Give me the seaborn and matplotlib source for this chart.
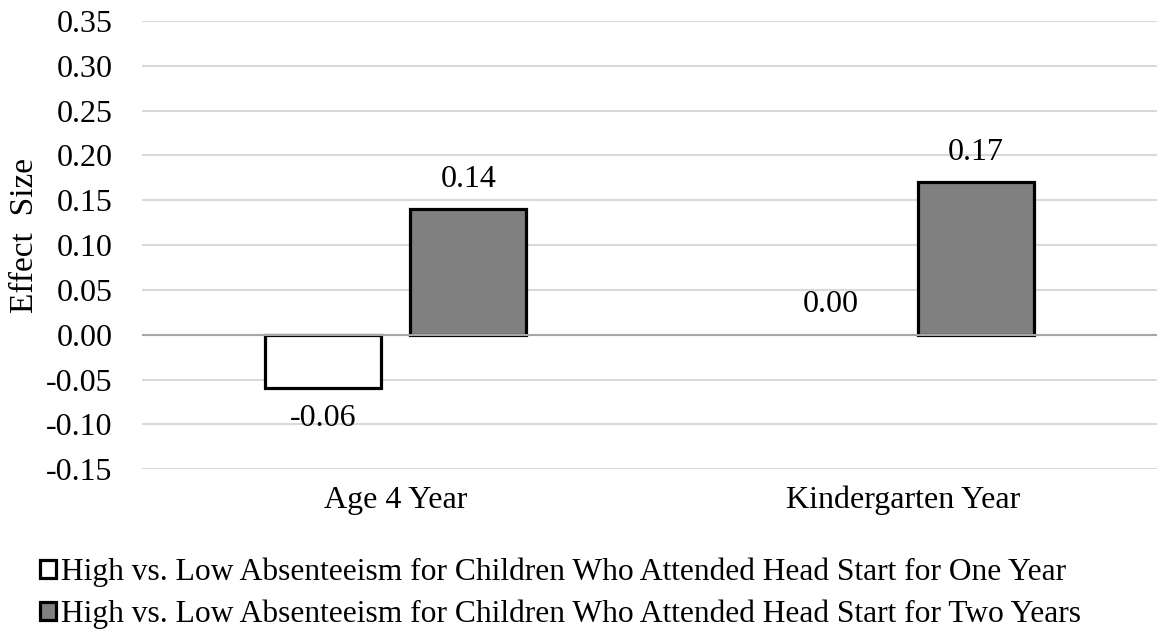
import numpy as np
import pandas as pd
import seaborn as sns
import matplotlib.pyplot as plt
from matplotlib.patches import Patch
from matplotlib.ticker import FormatStrFormatter, MultipleLocator

categories = ['Age 4 Year', 'Kindergarten Year']
one_year = [-0.06, 0.00]
two_years = [0.14, 0.17]
series_names = [
    'High vs. Low Absenteeism for Children Who Attended Head Start for One Year',
    'High vs. Low Absenteeism for Children Who Attended Head Start for Two Years',
]
colors = ['#ffffff', '#808080']

df = pd.DataFrame({
    'year': categories * 2,
    'effect': one_year + two_years,
    'group': [series_names[0]] * 2 + [series_names[1]] * 2,
})

sns.set_style('white')
plt.rcParams['font.family'] = ['Liberation Serif', 'DejaVu Serif']
plt.rcParams['axes.unicode_minus'] = False
plt.rcParams['text.color'] = 'black'
plt.rcParams['axes.labelcolor'] = 'black'
plt.rcParams['xtick.color'] = 'black'
plt.rcParams['ytick.color'] = 'black'

fig = plt.figure(figsize=(11.57, 6.34), dpi=100)
ax = fig.add_axes([0.1227, 0.260, 0.8773, 0.707])

sns.barplot(
    data=df, x='year', y='effect', hue='group',
    order=categories, hue_order=series_names,
    palette=colors, width=0.572, gap=0.2,
    edgecolor='black', linewidth=2.3,
    legend=False, ax=ax, zorder=3
)

# a zero-height bar shows no outline in the original
for p in ax.patches:
    if p.get_height() == 0:
        p.set_linewidth(0)

for cont in ax.containers:
    ax.bar_label(cont, fmt='%.2f', padding=11, fontsize=23, color='black')

ax.set_ylim(-0.15, 0.35)
ax.yaxis.set_major_locator(MultipleLocator(0.05))
ax.yaxis.set_major_formatter(FormatStrFormatter('%.2f'))
ax.grid(axis='y', color='#d9d9d9', linewidth=1.5, zorder=0)
ax.axhline(0, color='#a6a6a6', linewidth=1.5, zorder=4)
ax.set_axisbelow(True)
sns.despine(ax=ax, left=True, bottom=True)

ax.tick_params(axis='y', length=0, pad=21, labelsize=23)
ax.tick_params(axis='x', length=0, pad=12, labelsize=23)
ax.set_xlabel('')
ax.set_ylabel('Effect  Size', fontsize=24)
ax.yaxis.set_label_coords(-0.100, 0.522)

handles = [Patch(facecolor=c, edgecolor='black', linewidth=2.3) for c in colors]
fig.legend(
    handles, series_names,
    loc='center left', bbox_to_anchor=(0.035, 0.064),
    frameon=False, fontsize=22.7,
    handlelength=0.5, handleheight=0.5, handletextpad=0.15,
    labelspacing=0.40, borderpad=0, borderaxespad=0
)

plt.savefig('out.png')
